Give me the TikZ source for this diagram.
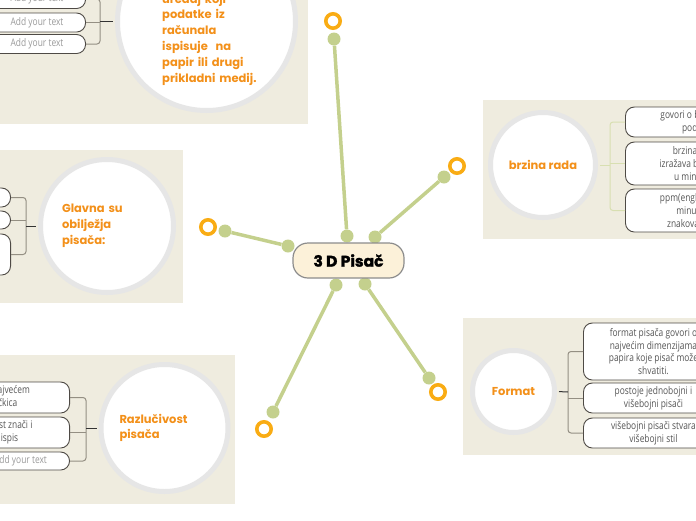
\documentclass[tikz,border=0pt]{standalone}
\usepackage{fontspec}
\setmainfont{Open Sans}
\newfontfamily\handfont{Poppins}
\newfontfamily\hubfont[FakeBold=1.5]{Poppins}
\newfontfamily\leaffont[FakeStretch=0.8]{Open Sans}
\usetikzlibrary{positioning, calc}
\definecolor{panelbg}{HTML}{EFECDF}
\definecolor{rimgrey}{HTML}{E6E6E6}
\definecolor{topicorange}{HTML}{F39019}
\definecolor{ringorange}{HTML}{F9AC14}
\definecolor{branchgreen}{HTML}{C4D08D}
\definecolor{hubfill}{HTML}{FCF1D9}
\definecolor{hubline}{HTML}{8C8C8C}
\definecolor{leafline}{HTML}{4E4A45}
\definecolor{leaftext}{HTML}{555555}
\definecolor{bracketgrey}{HTML}{948F83}
\definecolor{bracketgreen}{HTML}{D8DFB1}
\tikzset{
  panel/.style  ={fill=panelbg},
  topic/.style  ={circle, draw=rimgrey, line width=5pt, fill=white, inner sep=0pt,
                  text=topicorange, font=\handfont\bfseries\fontsize{11.5}{15.8}\selectfont},
  topicnote/.style={text=topicorange, text width=100pt, align=left, inner sep=0pt,
                  font=\handfont\bfseries\fontsize{11.5}{15.8}\selectfont},
  leaf/.style   ={draw=leafline, line width=0.9pt, fill=white, rounded corners=9pt,
                  align=center, inner sep=2pt, text=leaftext,
                  font=\leaffont\fontsize{10.5}{12.8}\selectfont},
  blank/.style  ={leaf, text=black!40},
  hub/.style    ={draw=hubline, line width=1.2pt, fill=hubfill, rounded corners=15pt,
                  minimum width=111pt, minimum height=35pt,
                  font=\hubfont\bfseries\fontsize{15.5}{17}\selectfont},
  branch/.style ={draw=branchgreen, line width=3.5pt},
  knob/.style   ={circle, fill=branchgreen, minimum size=13pt, inner sep=0pt},
  ring/.style   ={circle, draw=ringorange, line width=3.6pt, minimum size=14.4pt, inner sep=0pt},
  bracket/.style={draw=bracketgrey, line width=1pt, rounded corners=3pt},
  stem/.style   ={draw=black!80, line width=1pt},
}
\begin{document}
\begin{tikzpicture}[x=1pt, y=-1pt]
  \useasboundingbox (0,0) rectangle (696,520);
  % panels
  \fill[panel] (-10,-10) rectangle (308,124);
  \fill[panel] (-10,150) rectangle (183,303);
  \fill[panel] (-10,355) rectangle (235,504);
  \fill[panel] (483,100) rectangle (706,239);
  \fill[panel] (463,318) rectangle (706,455);

  % top left
  \node[topic, minimum size=178pt] (print) at (206.5,21.5) {};
  \node[topicnote, anchor=west] (printtext) at (162,39.5) {uređaj koji\\ podatke iz\\ računala\\ ispisuje\ \ na\\ papir ili drugi\\ prikladni medij.};
  \node[blank, anchor=east, minimum width=97pt, minimum height=19pt] (a1) at (86,-1)   {Add your text};
  \node[blank, anchor=east, minimum width=97pt, minimum height=19pt] (a2) at (86,22.5) {Add your text};
  \node[blank, anchor=east, minimum width=97pt, minimum height=19pt] (a3) at (86,44)   {Add your text};
  \coordinate (jA) at (100,21.5);
  \draw[bracket] (a1.east) -| (jA) |- (a3.east);
  \draw[bracket] (a2.east) -- (a2.east -| jA);
  \draw[stem, shorten >=2pt] (jA) -- (print.west);

  % left
  \node[topic, minimum size=133pt, text width=90pt, align=left] (traits) at (107,226) {Glavna su\\ obilježja\\ pisača:};
  \node[leaf, anchor=east, minimum width=80pt, minimum height=19pt] (b1) at (11,197.5) {};
  \node[leaf, anchor=east, minimum width=80pt, minimum height=18pt] (b2) at (11,220)   {};
  \node[leaf, anchor=east, minimum width=80pt, minimum height=41pt] (b3) at (11,254.5) {};
  \coordinate (jB) at (26,226);
  \draw[bracket] (b1.east) -| (jB) |- (b3.east);
  \draw[bracket] (b2.east) -- (b2.east -| jB);
  \draw[stem, shorten >=2pt] (jB) -- (traits.west);

  % bottom left
  \node[topic, minimum size=127pt, text width=90pt, align=left] (resol) at (164.5,428) {Razlučivost\\ pisača};
  \node[leaf, anchor=east, minimum width=162pt, minimum height=31pt] (c1) at (70,397.5) {rezolucija s najvećem\\ brojem točkica};
  \node[leaf, anchor=east, minimum width=162pt, minimum height=31pt] (c2) at (70,432.5) {veća razlučivost znači i\\ kvalitetniji ispis};
  \node[blank, anchor=east, minimum width=98pt, minimum height=18pt] (c3) at (70,461)   {Add your text};
  \coordinate (jC) at (86,428);
  \draw[bracket] (c1.east) -| (jC) |- (c3.east);
  \draw[bracket] (c2.east) -- (c2.east -| jC);
  \draw[stem, shorten >=2pt] (jC) -- (resol.west);

  % top right
  \node[topic, minimum size=105pt] (speed) at (543,165) {brzina rada};
  \node[leaf, anchor=west, minimum width=150pt, minimum height=30pt] (d1) at (625,122)   {govori o brzini ispisa\\ podataka};
  \node[leaf, anchor=west, minimum width=130pt, minimum height=43pt] (d2) at (625,163.5) {brzina se\\ izražava brojem\\ u minuti};
  \node[leaf, anchor=west, minimum width=150pt, minimum height=43pt] (d3) at (625,210.5) {ppm(engl. pages per\\ minute) broj\\ znakova u minuti};
  \coordinate (jD) at (610,165);
  \draw[bracket, draw=bracketgreen] (d1.west) -| (jD) |- (d3.west);
  \draw[bracket, draw=bracketgreen] (d2.west) -- (d2.west -| jD);
  \draw[stem, draw=bracketgreen, shorten >=2pt] (jD) -- (speed.east);

  % bottom right
  \node[topic, minimum size=82pt] (format) at (513.5,391.5) {Format};
  \node[leaf, anchor=west, minimum width=140pt, minimum height=57pt] (e1) at (583,351.5) {format pisača govori o\\ najvećim dimenzijama\\ papira koje pisač može\\ shvatiti.};
  \node[leaf, anchor=west, minimum width=140pt, minimum height=30pt] (e2) at (583,398)   {postoje jednobojni i\\ višebojni pisači};
  \node[leaf, anchor=west, minimum width=140pt, minimum height=30pt] (e3) at (583,433)   {višebojni pisači stvara\\ višebojni stil};
  \coordinate (jE) at (568,392);
  \draw[bracket] (e1.west) -| (jE) |- (e3.west);
  \draw[bracket] (e2.west) -- (e2.west -| jE);
  \draw[stem, shorten >=2pt] (jE) -- (format.east);

  % branches
  \node[knob] (h1) at (347,236) {};
  \node[knob] (t1) at (334,39)  {};
  \node[ring] (r1) at (333,21)  {};
  \node[knob] (h2) at (375,237) {};
  \node[knob] (t2) at (444,177) {};
  \node[ring] (r2) at (457,166) {};
  \node[knob] (h3) at (288,246) {};
  \node[knob] (t3) at (225,231) {};
  \node[ring] (r3) at (208,227) {};
  \node[knob] (h4) at (336,285) {};
  \node[knob] (t4) at (273,412) {};
  \node[ring] (r4) at (264,429) {};
  \node[knob] (h5) at (365,284) {};
  \node[knob] (t5) at (429,378) {};
  \node[ring] (r5) at (438,392) {};
  \draw[branch] (h1) -- (t1);
  \draw[branch] (h2) -- (t2);
  \draw[branch] (h3) -- (t3);
  \draw[branch] (h4) -- (t4);
  \draw[branch] (h5) -- (t5);

  \node[hub] (hub) at (348.5,260.5) {3 D Pisač};
\end{tikzpicture}
\end{document}
